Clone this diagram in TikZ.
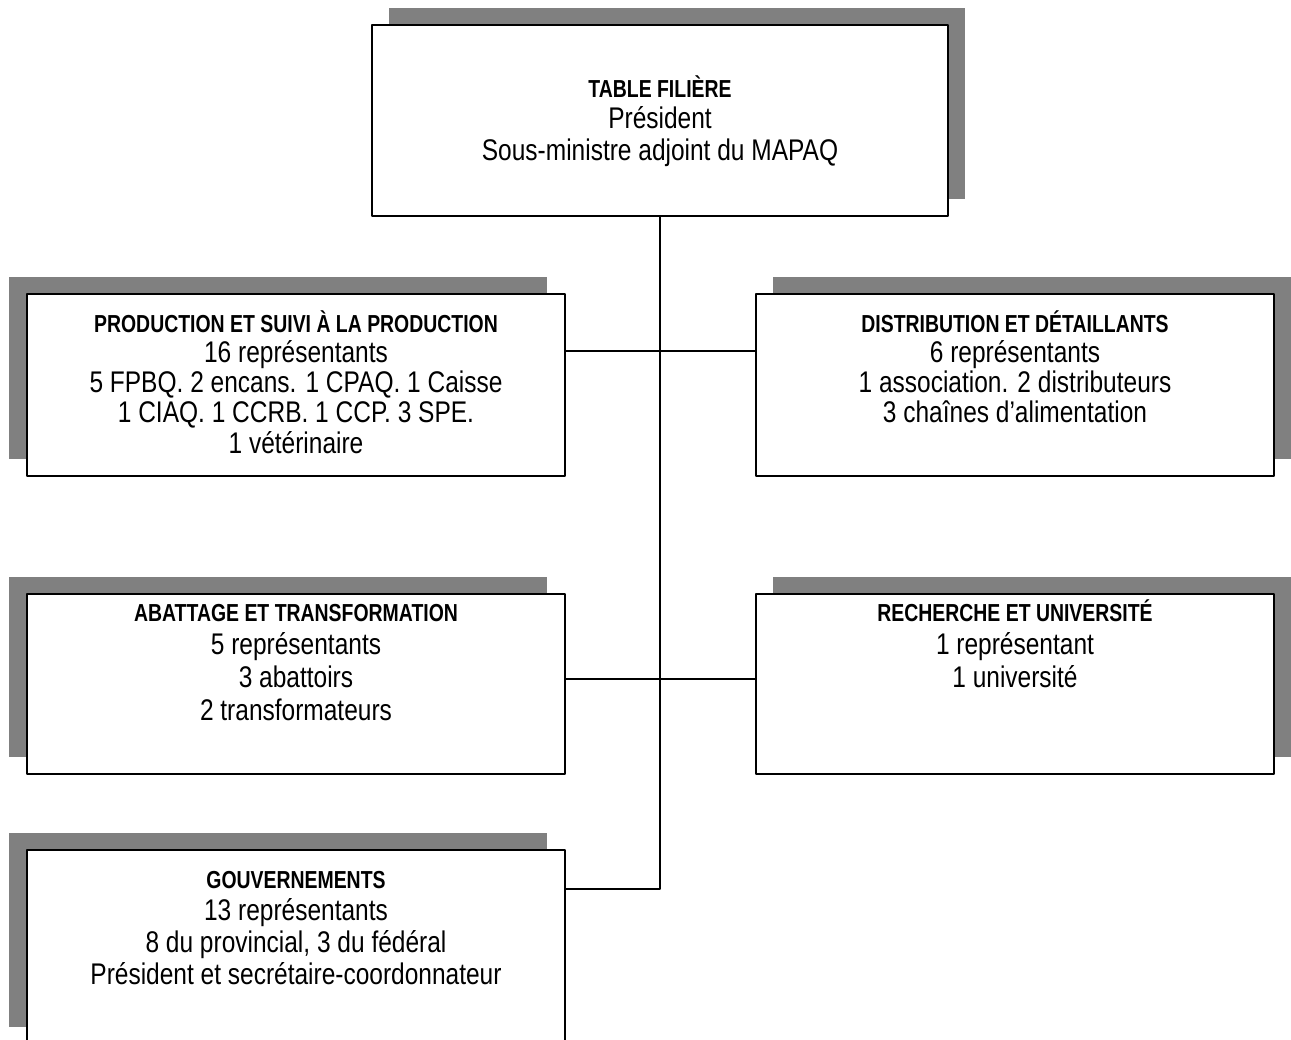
\documentclass[tikz,border=0pt]{standalone}
\usepackage{fontspec}
\setmainfont{Liberation Sans}[FakeStretch=0.82]
\usetikzlibrary{shadows}
\tikzset{
  boite/.style={draw, line width=1.1pt, fill=white, inner sep=0pt, minimum width=10.76cm, minimum height=3.64cm},
  ombreg/.style={general shadow={fill=black!50, shadow xshift=-0.36cm, shadow yshift=0.34cm}},
  ombred/.style={general shadow={fill=black!50, shadow xshift=0.34cm, shadow yshift=0.34cm}},
  texte/.style={anchor=north, align=center, inner sep=0pt, font=\fontsize{17}{#1}\selectfont},
  texte/.default=17.2pt,
  lien/.style={line width=1.1pt}
}
\newcommand{\titre}[1]{{\bfseries\addfontfeature{FakeStretch=0.79}\fontsize{14}{17}\selectfont\vphantom{É}#1}}
\begin{document}
\begin{tikzpicture}[x=0.02cm, y=-0.02cm, line join=round]
\useasboundingbox (0,0) rectangle (1291,1040);

% boites
\node[boite, ombred, minimum width=11.52cm, minimum height=3.82cm] (table) at (660,120.5) {};
\node[boite, ombreg] (prod) at (296,385) {};
\node[boite, ombred, minimum width=10.36cm] (distr) at (1015,385) {};
\node[boite, ombreg, minimum height=3.6cm] (abat) at (296,684) {};
\node[boite, ombred, minimum width=10.36cm, minimum height=3.6cm] (rech) at (1015,684) {};
\node[boite, ombreg, minimum height=3.88cm] (gouv) at (296,947) {};

% textes
\node[texte=17.8pt] (table-t) at ([yshift=-1.03cm]table.north) {\titre{TABLE FILIÈRE}\\ Président\\ Sous-ministre adjoint du MAPAQ};
\node[texte] (prod-t) at ([yshift=-0.34cm]prod.north) {\titre{PRODUCTION ET SUIVI À LA PRODUCTION}\\ 16 représentants\\ 5 FPBQ. 2 encans. 1 CPAQ. 1 Caisse\\ 1 CIAQ. 1 CCRB. 1 CCP. 3 SPE.\\ 1 vétérinaire};
\node[texte] (distr-t) at ([yshift=-0.34cm]distr.north) {\titre{DISTRIBUTION ET DÉTAILLANTS}\\ 6 représentants\\ 1 association. 2 distributeurs\\ 3 chaînes d’alimentation};
\node[texte=18.8pt] (abat-t) at ([yshift=-0.13cm]abat.north) {\titre{ABATTAGE ET TRANSFORMATION}\\ 5 représentants\\ 3 abattoirs\\ 2 transformateurs};
\node[texte=18.8pt] (rech-t) at ([yshift=-0.13cm]rech.north) {\titre{RECHERCHE ET UNIVERSITÉ}\\ 1 représentant\\ 1 université};
\node[texte=18.2pt] (gouv-t) at ([yshift=-0.34cm]gouv.north) {\titre{GOUVERNEMENTS}\\ 13 représentants\\ 8 du provincial, 3 du fédéral\\ Président et secrétaire-coordonnateur};

% liens
\coordinate (bas) at (660,889);
\draw[lien] (table.south) -- (bas) -- (gouv.east |- bas);
\draw[lien] (prod.east |- 0,351) -- (distr.west |- 0,351);
\draw[lien] (abat.east |- 0,679) -- (rech.west |- 0,679);
\end{tikzpicture}
\end{document}
